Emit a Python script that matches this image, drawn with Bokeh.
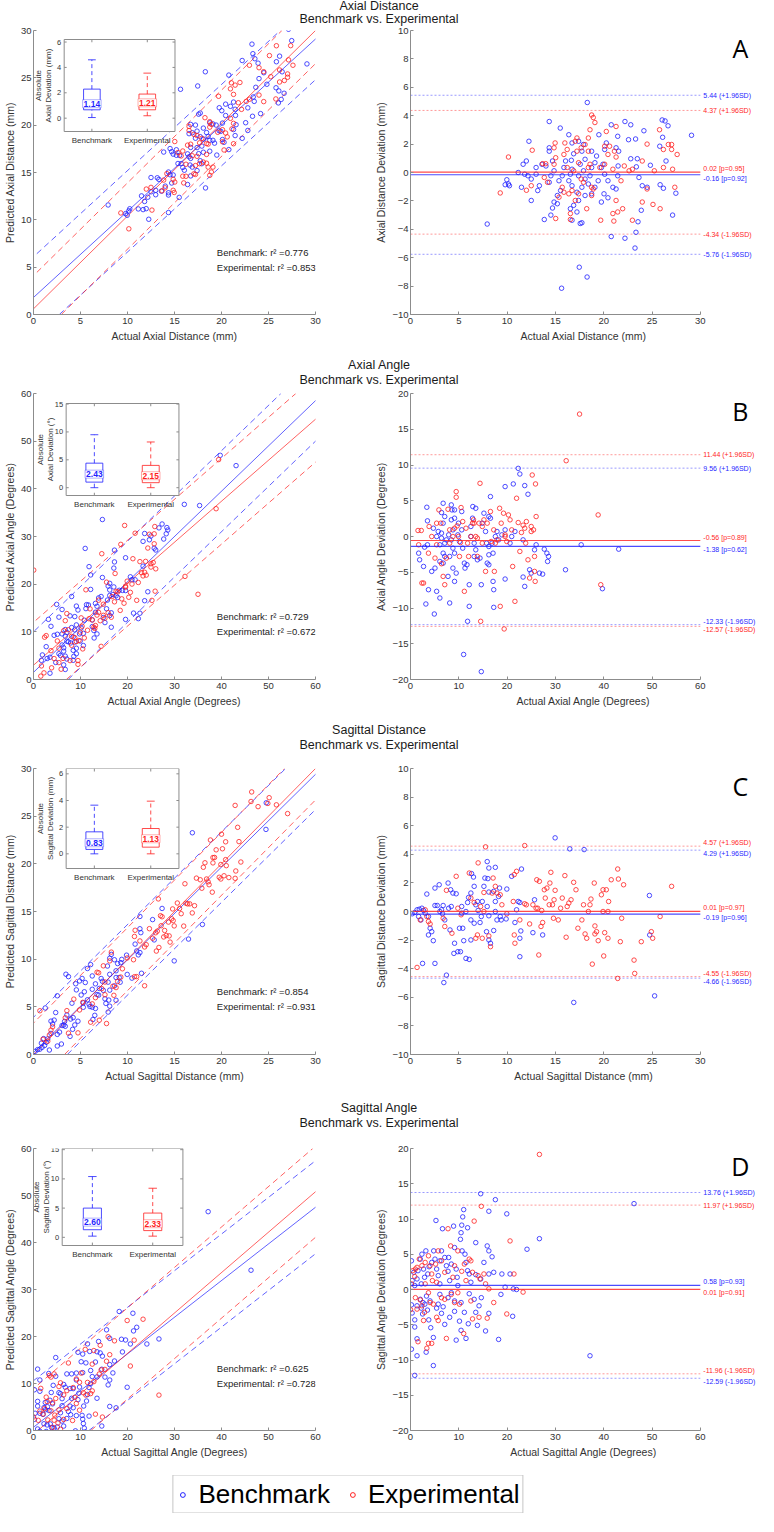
import math
from bokeh.plotting import figure
from bokeh.models import (Range1d, Label, Div, Legend, LegendItem, Slope, FixedTicker)
from bokeh.layouts import column, row
from bokeh.embed import file_html
from bokeh.resources import INLINE
from bokeh.core.properties import value

# ------------------------------------------------------------------ data
group_names = ["Benchmark", "Experimental"]
box_categories = [1, 2]
dist_ticks = [0, 5, 10, 15, 20, 25, 30]
angle_ticks = [0, 10, 20, 30, 40, 50, 60]
dist_dev_ticks = [-10, -8, -6, -4, -2, 0, 2, 4, 6, 8, 10]
angle_dev_ticks = [-20, -15, -10, -5, 0, 5, 10, 15, 20]
dist_inset_ticks = [0, 2, 4, 6]
angle_inset_ticks = [0, 5, 10, 15]

# (actual, actual - predicted) pairs
ad_bench = [(7.94,-3.63),(15.64,-8.15),(17.47,-6.67),(18.28,-7.36),(18.3,4.93),(15.5,3.13),(14.36,3.59),(12.26,2.2),(20.78,3.36),(22.2,3.59),(22.8,3.36),(26.05,3.7),(26.35,3.63),(26.66,3.29),(29.09,2.62),(24.16,2.94),(22.57,2.31),(23.3,2.36),(26.1,2.48),(25.8,1.85),(26.45,0.81),(24.83,0.51),(22.8,0.97),(23.48,0.97),(23.38,0.4),(23.65,-0.35),(24.5,-1.04),(23.99,-0.93),(25.84,-0.86),(26.18,-1.11),(27.47,-1.46),(27.13,-3.0),(23.55,-3.47),(23.34,-4.21),(23.24,-5.32),(22.2,-4.63),(20.78,-4.51),(23.89,-2.66),(21.28,-1.16),(21.45,-0.23),(21.49,0.46),(21.55,1.5),(21.28,1.74),(21.45,2.55),(20.27,2.08),(20.1,1.62),(19.76,0.35),(19.93,0.58),(20.1,-0.12),(20.44,-0.58),(20.95,-1.04),(20.03,-1.5),(20.44,-1.78),(19.76,-2.08),(18.75,-1.5),(19.09,-1.04),(19.43,-0.58),(18.58,-0.23),(18.75,0.35),(19.09,0.69),(19.26,1.16),(18.75,1.5),(19.5,2.66),(17.9,1.97),(17.4,2.2),(17.74,1.5),(18.07,0.93),(17.57,0.58),(17.91,0.12),(17.4,-0.23),(18.07,-0.46),(18.41,-0.81),(17.74,-1.04),(17.23,-1.39),(18.07,-1.62),(17.4,-1.97),(16.89,-2.31),(17.23,-2.78),(16.55,-2.55),(16.72,-3.36),(17.57,-3.59),(17.74,-3.54),(16.39,-0.58),(16.72,-0.93),(16.55,-0.12),(16.72,0.23),(16.65,0.86),(16.89,1.32),(16.72,2.08),(16.39,2.66),(16.05,0.81),(15.88,0.35),(15.71,-0.23),(15.37,-0.58),(15.54,-1.27),(15.2,-1.62),(14.86,-2.08),(15.2,-2.2),(14.53,-3.0),(13.85,-3.31),(14.7,-2.5),(14.36,-0.69),(14.53,-0.23),(14.86,0.12),(14.7,0.81),(14.36,1.5),(14.36,1.74),(14.02,0.46),(13.61,0.58),(13.0,0.35),(13.0,-0.12),(13.34,-0.93),(13.17,-1.27),(12.5,-1.97),(12.5,-0.46),(12.16,-0.23),(11.82,-0.12),(11.49,-1.04),(11.15,0.0),(11.66,0.58),(9.97,-0.51),(10.14,-0.81),(9.8,-0.86),(10.24,-0.93),(11.99,0.81)]
ad_exp = [(9.29,-1.44),(10.14,1.09),(12.0,-1.25),(12.6,1.57),(12.5,-0.93),(13.68,0.62),(14.0,0.62),(13.85,-0.35),(14.19,-0.69),(14.97,2.08),(14.86,1.74),(15.03,1.04),(14.86,0.58),(15.03,-3.24),(15.37,-1.74),(15.71,-1.04),(15.88,1.27),(15.98,2.08),(16.22,1.62),(16.22,0.35),(16.39,-1.5),(16.72,-1.27),(16.55,-3.31),(16.55,-2.89),(17.06,2.2),(17.23,2.43),(17.23,1.5),(17.4,0.69),(17.67,-0.46),(17.91,-0.69),(17.67,1.74),(18.07,1.97),(18.41,2.43),(18.58,3.01),(18.75,4.05),(18.92,3.87),(19.09,3.52),(18.41,0.35),(18.58,0.58),(18.75,-1.04),(18.92,-1.16),(18.24,-2.55),(18.75,-1.62),(19.6,0.35),(19.69,-3.36),(20.1,0.58),(20.1,1.85),(20.27,2.89),(20.44,1.27),(20.61,1.85),(20.95,0.23),(21.11,1.5),(21.28,3.24),(21.28,1.09),(20.95,-2.89),(21.05,-3.42),(21.45,-2.78),(21.28,-1.97),(21.96,-2.55),(21.79,-0.58),(22.97,-3.36),(22.97,0.23),(23.99,0.81),(23.99,-2.08),(24.49,2.0),(24.49,-1.16),(25.1,-2.25),(25.24,0.12),(25.78,3.01),(25.84,-2.55),(26.18,0.35),(26.18,1.62),(26.69,1.97),(27.03,1.97),(27.03,1.62),(27.13,0.23),(27.36,-1.04),(27.6,1.27),(22.63,0.12),(22.13,0.46),(17.4,-1.5),(17.06,-1.97),(15.88,-1.39),(16.89,0.12),(18.41,1.5)]
ad_fit_intercept = [1.8, 0.6]
ad_fit_slope = [0.91, 0.98]
ad_fit_band = [4.3, 3.5]
ad_r2 = [0.776, 0.853]
ad_mean = [-0.16, 0.02]
ad_p = [0.92, 0.95]
ad_upper = [5.44, 4.37]
ad_lower = [-5.76, -4.34]
ad_box_min = [0.05, 0.19]
ad_box_q1 = [0.66, 0.66]
ad_box_med = [1.14, 1.21]
ad_box_q3 = [2.29, 1.9]
ad_box_max = [4.6, 3.55]

aa_bench = [(3.38,4.09),(3.51,2.19),(1.69,-2.33),(1.89,-3.26),(2.91,-1.49),(3.51,-1.16),(2.7,-4.19),(3.72,-7.44),(3.18,-9.44),(4.93,-10.84),(5.41,-7.67),(6.08,-8.6),(4.39,-4.88),(5.07,-4.42),(4.73,1.16),(5.74,0.7),(5.41,0.0),(6.42,0.47),(6.42,3.35),(6.76,4.65),(7.09,2.79),(6.76,1.86),(6.42,-0.23),(6.08,-1.16),(7.09,-0.93),(6.76,-2.33),(7.09,-2.79),(6.08,-3.49),(6.76,-3.72),(8.11,-9.3),(7.77,-5.58),(8.45,4.42),(8.58,3.72),(8.45,2.33),(9.12,2.56),(8.78,0.93),(8.45,-0.47),(8.78,-1.63),(9.12,-2.33),(8.11,-2.79),(8.78,-4.42),(9.12,-6.28),(9.46,-5.12),(9.8,0.23),(10.14,-0.7),(9.93,1.86),(10.61,3.49),(10.61,0.93),(10.81,-1.63),(11.15,-3.72),(11.28,-4.42),(11.69,-3.95),(11.82,-11.86),(12.16,-6.74),(12.16,-9.77),(12.5,0.0),(12.5,1.4),(12.84,2.56),(12.9,4.19),(13.51,3.95),(13.18,-0.93),(13.51,-1.86),(13.18,-2.79),(13.85,-3.26),(14.39,-3.02),(14.66,-6.74),(14.86,1.86),(15.2,3.26),(15.54,0.7),(15.74,-0.93),(16.22,-2.56),(16.22,-1.4),(15.88,-3.72),(16.22,-3.95),(16.22,2.79),(16.55,5.58),(16.55,2.56),(16.89,-0.93),(17.09,-2.33),(17.09,-6.28),(17.23,-7.44),(17.23,-9.91),(17.57,0.0),(17.91,0.7),(18.24,-0.47),(18.92,0.23),(19.59,0.93),(19.59,6.98),(21.28,7.35),(19.59,-5.95),(20.95,0.0),(20.61,-0.93),(21.62,0.7),(22.3,9.53),(22.64,8.74),(23.31,-0.47),(23.31,-5.67),(23.65,-6.98),(23.65,7.12),(24.32,5.91),(24.66,-4.65),(24.99,-5.12),(25.68,-1.86),(26.01,-1.16),(26.69,-5.12),(27.36,-5.26),(27.7,-1.77),(28.24,-2.33),(28.38,-3.49),(28.58,-2.79),(32.09,-4.65),(35.34,-1.16),(43.1,-1.77),(39.73,-7.3),(9.12,3.72),(7.43,-0.47),(7.9,0.23),(11.0,-16.5),(14.66,-18.9)]
aa_exp = [(1.55,0.84),(2.23,0.84),(2.36,-6.51),(2.7,-6.51),(1.69,-1.16),(3.72,-2.33),(3.85,1.4),(4.39,0.0),(5.07,-3.02),(5.41,-1.16),(5.41,1.86),(5.88,3.72),(6.28,1.86),(6.42,-3.81),(6.76,-5.58),(7.09,-6.74),(7.77,3.81),(8.11,0.93),(8.11,-0.93),(9.46,5.49),(9.46,6.28),(9.66,1.49),(9.93,0.0),(10.14,-2.79),(10.34,-0.84),(10.47,4.05),(10.81,2.09),(11.15,-7.67),(11.49,1.16),(11.82,-0.93),(12.03,-2.79),(12.5,0.0),(12.84,1.86),(13.04,2.33),(13.18,1.86),(13.51,0.0),(13.85,-0.23),(13.85,-2.79),(14.19,1.86),(14.39,7.44),(14.53,-11.86),(14.86,1.4),(14.86,-0.93),(15.2,2.33),(15.54,-4.88),(15.88,1.86),(16.55,3.49),(16.69,-0.7),(17.23,0.93),(17.36,-4.88),(17.57,-0.93),(17.91,-0.47),(18.45,3.95),(18.78,1.86),(19.26,3.26),(19.59,0.23),(19.59,0.0),(19.93,-0.7),(19.39,-12.93),(18.58,-9.77),(20.27,3.02),(20.61,2.33),(20.95,0.93),(21.15,-4.19),(21.62,-9.07),(21.96,5.35),(22.3,1.95),(22.64,-2.09),(22.97,0.56),(23.31,1.58),(23.65,1.16),(23.85,-0.93),(23.99,2.09),(24.32,-3.26),(24.66,-5.81),(24.99,1.4),(24.99,0.7),(25.2,8.6),(25.47,0.93),(25.68,-4.88),(25.81,-6.28),(25.88,7.35),(26.01,2.79),(25.68,-2.79),(32.23,10.6),(35.0,17.12),(38.85,3.02),(39.39,-6.74),(7.43,-3.02),(8.78,0.0),(9.12,1.16),(0.05,-22.9)]
aa_fit_intercept = [1.5, 3.0]
aa_fit_slope = [0.95, 0.86]
aa_fit_band = [8.5, 9.0]
aa_r2 = [0.729, 0.672]
aa_mean = [-1.38, -0.56]
aa_p = [0.62, 0.89]
aa_upper = [9.56, 11.44]
aa_lower = [-12.33, -12.57]
aa_box_min = [0.0, 0.0]
aa_box_q1 = [1.0, 0.9]
aa_box_med = [2.43, 2.15]
aa_box_q3 = [4.4, 4.0]
aa_box_max = [9.5, 8.2]

sd_bench = [(0.17,-0.16),(0.44,-0.07),(0.68,0.12),(0.91,0.16),(1.18,0.23),(1.35,0.07),(1.52,-0.12),(1.08,-0.59),(1.25,-3.63),(1.69,1.22),(1.86,-0.35),(2.03,-1.17),(1.86,-1.64),(2.2,-1.41),(2.36,-2.04),(2.53,-3.63),(2.53,1.64),(2.97,1.87),(2.77,0.42),(2.53,0.42),(3.04,0.0),(3.21,0.12),(3.38,0.42),(3.55,-0.59),(3.72,-4.45),(3.89,1.99),(4.16,1.52),(4.39,1.29),(4.73,1.24),(3.95,0.23),(4.22,0.35),(4.09,-1.29),(4.56,-2.22),(4.49,-2.93),(4.9,-2.81),(5.07,-1.17),(5.41,-1.17),(5.3,-0.12),(5.3,0.35),(5.51,-2.04),(5.17,-2.81),(5.74,0.0),(5.91,0.63),(6.01,0.98),(6.25,1.29),(6.32,2.65),(6.52,2.41),(6.59,1.76),(5.74,-3.28),(6.08,-3.35),(6.25,-1.99),(6.25,-0.59),(6.59,-0.82),(6.76,0.47),(6.93,0.7),(7.0,0.07),(7.2,-0.77),(7.33,-0.35),(7.43,0.7),(7.6,1.76),(7.7,2.34),(7.94,3.49),(8.11,3.04),(8.01,2.3),(8.11,1.36),(7.94,0.35),(8.11,-0.3),(7.87,-1.41),(8.11,-1.99),(8.28,-2.22),(8.61,-1.33),(8.61,1.41),(8.78,0.7),(8.78,0.0),(8.95,-0.59),(9.12,1.05),(9.22,1.64),(9.29,-0.35),(9.39,-0.59),(8.78,3.09),(9.9,-0.52),(9.97,1.57),(10.47,2.46),(10.81,-0.77),(11.32,-3.16),(10.98,0.12),(11.15,0.7),(11.32,0.63),(11.42,-1.36),(11.49,2.97),(11.32,-1.87),(12.67,-1.48),(12.84,0.82),(13.68,-1.64),(14.97,5.15),(16.49,4.38),(17.97,4.33),(24.73,1.12),(24.76,-1.64),(0.84,-0.35),(3.31,-0.16),(3.45,-4.97),(16.9,-6.36),(25.27,-5.9)]
sd_exp = [(0.68,-3.91),(1.01,-0.59),(1.52,0.12),(1.86,-0.7),(2.03,-0.87),(1.69,-0.35),(3.72,1.48),(3.55,-1.05),(3.38,-0.47),(4.73,2.46),(4.29,-1.52),(5.24,-0.23),(4.9,0.23),(6.08,2.69),(6.25,0.94),(6.59,0.63),(6.76,-1.87),(6.93,-1.64),(7.26,0.35),(7.0,3.4),(7.6,1.33),(7.77,4.52),(7.43,-1.87),(7.6,0.0),(8.11,-1.71),(8.28,-2.46),(8.45,1.29),(8.55,2.34),(8.78,1.76),(8.95,1.29),(9.29,1.17),(9.46,0.47),(9.97,-0.16),(10.64,0.7),(10.74,2.58),(10.98,2.81),(11.32,-0.59),(11.82,4.61),(10.81,-2.22),(10.74,-1.64),(11.82,0.54),(12.33,-0.87),(11.99,0.47),(12.67,0.47),(13.0,0.23),(13.17,0.23),(13.07,2.22),(13.34,2.11),(13.28,-3.04),(13.51,-1.05),(13.68,-0.77),(13.58,0.07),(13.95,0.94),(13.85,1.52),(14.12,1.64),(14.36,0.47),(14.43,1.99),(14.53,2.74),(14.7,0.47),(14.86,0.82),(14.8,-0.47),(14.97,1.48),(15.3,-0.59),(15.54,0.23),(15.71,0.94),(15.98,2.51),(16.22,0.35),(16.11,-1.8),(16.39,0.59),(16.62,0.82),(16.89,2.04),(17.13,1.52),(17.33,-1.17),(17.74,-0.59),(17.91,0.47),(18.07,-1.57),(18.24,-1.87),(18.41,0.0),(18.58,0.47),(18.68,0.87),(18.82,-3.68),(19.02,1.99),(19.09,-1.57),(19.09,-1.01),(19.26,-1.41),(19.43,-2.04),(19.76,1.17),(19.93,1.52),(19.93,0.0),(20.1,-1.48),(20.0,-3.11),(20.27,1.52),(20.44,-1.87),(20.44,0.0),(20.51,0.7),(20.78,2.22),(21.52,2.27),(21.45,2.97),(21.72,-2.11),(21.45,-4.68),(21.86,-0.47),(22.06,1.87),(23.14,-3.4),(23.21,-4.33),(23.89,-2.11),(24.93,-1.41),(25.07,-1.87),(25.84,-0.35),(27.03,1.76)]
sd_fit_intercept = [0.2, 0.0]
sd_fit_slope = [0.973, 1.0]
sd_fit_band = [3.7, 3.3]
sd_r2 = [0.854, 0.931]
sd_mean = [-0.19, 0.01]
sd_p = [0.96, 0.97]
sd_upper = [4.29, 4.57]
sd_lower = [-4.66, -4.55]
sd_box_min = [0.0, 0.0]
sd_box_q1 = [0.33, 0.5]
sd_box_med = [0.83, 1.13]
sd_box_q3 = [1.65, 1.9]
sd_box_max = [3.65, 3.95]

sa_bench = [(0.2,4.07),(0.34,1.26),(0.68,2.44),(0.88,0.56),(1.35,1.5),(1.55,2.67),(2.03,4.31),(2.36,5.01),(3.18,5.48),(2.7,2.9),(2.91,1.73),(2.23,0.8),(3.58,2.2),(3.85,3.23),(4.39,3.84),(4.8,5.48),(5.27,9.79),(5.07,4.31),(5.41,2.9),(5.74,1.97),(6.08,4.07),(6.42,5.48),(6.62,8.62),(7.09,4.54),(7.43,3.37),(7.77,2.58),(7.9,4.54),(8.45,3.61),(8.92,8.99),(9.12,5.95),(9.46,2.9),(9.66,1.73),(9.8,0.56),(10.34,7.12),(10.47,8.06),(10.61,9.13),(10.81,10.3),(11.01,11.33),(10.68,5.48),(11.28,5.01),(11.49,3.84),(11.82,2.67),(12.16,2.2),(12.5,1.03),(11.82,8.76),(13.51,6.65),(14.53,13.58),(15.2,3.84),(15.88,6.18),(16.22,11.1),(16.22,5.48),(16.89,4.64),(17.23,2.44),(17.57,12.74),(18.92,2.2),(19.59,0.33),(19.93,10.73),(20.61,2.2),(21.28,0.09),(21.96,0.0),(24.12,5.71),(26.69,7.21),(46.28,12.18),(14.53,1.5),(13.51,2.11),(16.22,2.2),(6.08,0.8),(8.11,1.26),(0.2,-2.18),(0.34,-3.33),(0.2,-8.47),(0.88,-4.31),(0.88,-5.32),(1.35,-6.99),(1.35,-9.4),(0.88,-12.18),(2.03,-1.39),(2.23,-2.64),(2.5,-3.47),(2.97,-2.08),(3.31,-0.93),(3.51,-2.92),(3.78,-4.31),(4.19,-5.42),(3.24,-8.89),(4.73,-10.79),(4.73,-6.81),(5.41,-2.64),(5.74,-2.08),(6.42,-3.38),(6.76,-2.45),(7.09,-4.95),(7.77,-1.16),(8.11,-3.94),(9.12,-1.62),(9.12,-3.1),(9.46,-7.18),(10.14,-4.49),(10.47,-5.79),(11.15,-3.24),(11.49,-6.94),(10.47,-1.85),(11.96,-4.86),(13.51,-3.24),(13.85,-5.09),(14.19,-2.31),(14.66,-1.16),(15.54,-5.88),(16.22,-3.38),(18.24,-7.08),(21.15,-3.8),(37.16,-9.4),(18.72,-0.69),(4.05,-1.62),(6.08,-0.69),(8.45,-0.46),(12.16,-0.6),(13.18,-1.39),(2.57,-1.85),(1.35,-2.31)]
sa_exp = [(0.2,0.8),(0.47,2.67),(0.88,1.83),(1.01,2.9),(1.35,3.14),(1.82,4.31),(2.36,3.37),(3.04,3.84),(3.72,4.78),(4.05,3.37),(4.39,2.2),(4.53,1.26),(5.2,3.61),(5.74,5.48),(6.42,4.07),(7.09,2.44),(7.77,8.62),(8.31,6.18),(8.78,1.73),(9.12,3.37),(9.8,5.48),(10.61,2.58),(11.15,3.61),(12.16,4.31),(12.5,4.07),(12.84,2.44),(13.18,9.7),(13.99,1.97),(14.39,1.5),(14.66,11.8),(15.2,2.2),(15.54,0.8),(16.22,0.09),(20.61,6.89),(21.42,2.2),(23.31,-0.37),(26.69,19.16),(3.04,0.8),(5.41,1.03),(11.49,1.26),(0.0,-2.87),(1.01,-1.16),(1.35,-2.78),(1.55,-7.41),(2.03,-1.48),(2.36,-2.31),(2.7,-4.4),(2.91,-3.24),(3.38,-8.33),(3.72,-7.64),(4.39,-7.64),(4.05,-1.85),(4.73,-2.08),(5.41,-3.94),(5.74,-4.4),(6.42,-1.16),(7.09,-1.39),(7.43,-6.94),(9.12,-1.85),(10.14,-2.08),(11.01,-6.25),(12.5,-1.62),(12.84,-4.17),(14.19,-3.94),(15.88,-4.07),(17.23,-1.85),(19.93,-3.47),(3.72,-0.46),(8.45,-0.69),(9.8,-0.46)]
sa_fit_intercept = [0.7, -0.8]
sa_fit_slope = [0.78, 0.86]
sa_fit_band = [9.9, 9.7]
sa_r2 = [0.625, 0.728]
sa_mean = [0.58, 0.01]
sa_p = [0.93, 0.91]
sa_upper = [13.76, 11.97]
sa_lower = [-12.59, -11.96]
sa_box_min = [0.2, 0.2]
sa_box_q1 = [1.3, 1.15]
sa_box_med = [2.60, 2.33]
sa_box_q3 = [5.0, 4.15]
sa_box_max = [10.4, 8.4]

# ------------------------------------------------------------------ style
FONT = "Liberation Sans"
COLORS = ["#1f1fff", "#ff1f1f"]
AXIS_C = "#8c8c8c"
TEXT_C = "#333333"
LEFT_W, RIGHT_W = 372, 386
LEFT_B = (30, 57)
RIGHT_B = (33, 2)
RIGHT_DATA_PX = 294   # pixels of the right frame used by the 0..xmax data area

panels = [
    dict(key="A", title="Axial Distance", data=(ad_bench, ad_exp),
         fit=(ad_fit_intercept, ad_fit_slope, ad_fit_band), r2=ad_r2,
         ba=(ad_mean, ad_p, ad_upper, ad_lower),
         box=(ad_box_min, ad_box_q1, ad_box_med, ad_box_q3, ad_box_max),
         xmax=30, ymax=30, ba_y=(-10, 10), xticks=dist_ticks, ba_ticks=dist_dev_ticks,
         inset_y=(-1.05, 6.2), inset_ticks=dist_inset_ticks,
         xlabel="Actual Axial Distance (mm)", ylabel="Predicted Axial Distance (mm)",
         ba_ylabel="Axial Distance Deviation (mm)", inset_label="Absolute\nAxial Deviation (mm)",
         inset_px=(31, 112, 9, 92), div_h=26, line_h=13, fig_h=332, top=4, bottom=44),
    dict(key="B", title="Axial Angle", data=(aa_bench, aa_exp),
         fit=(aa_fit_intercept, aa_fit_slope, aa_fit_band), r2=aa_r2,
         ba=(aa_mean, aa_p, aa_upper, aa_lower),
         box=(aa_box_min, aa_box_q1, aa_box_med, aa_box_q3, aa_box_max),
         xmax=60, ymax=60, ba_y=(-20, 20), xticks=angle_ticks, ba_ticks=angle_dev_ticks,
         inset_y=(-1.4, 15.1), inset_ticks=angle_inset_ticks,
         xlabel="Actual Axial Angle (Degrees)", ylabel="Predicted Axial Angle (Degrees)",
         ba_ylabel="Axial Angle Deviation (Degrees)", inset_label="Absolute\nAxial Deviation (°)",
         inset_px=(33, 114, 10, 92), div_h=30, line_h=15, fig_h=335, top=5, bottom=44),
    dict(key="C", title="Sagittal Distance", data=(sd_bench, sd_exp),
         fit=(sd_fit_intercept, sd_fit_slope, sd_fit_band), r2=sd_r2,
         ba=(sd_mean, sd_p, sd_upper, sd_lower),
         box=(sd_box_min, sd_box_q1, sd_box_med, sd_box_q3, sd_box_max),
         xmax=30, ymax=30, ba_y=(-10, 10), xticks=dist_ticks, ba_ticks=dist_dev_ticks,
         inset_y=(-1.1, 6.4), inset_ticks=dist_inset_ticks,
         xlabel="Actual Sagittal Distance (mm)", ylabel="Predicted Sagittal Distance (mm)",
         ba_ylabel="Sagittal Distance Deviation (mm)", inset_label="Absolute\nSagittal Deviation (mm)",
         inset_px=(33, 114, 0, 100), div_h=30, line_h=15, fig_h=348, top=15, bottom=47),
    dict(key="D", title="Sagittal Angle", data=(sa_bench, sa_exp),
         fit=(sa_fit_intercept, sa_fit_slope, sa_fit_band), r2=sa_r2,
         ba=(sa_mean, sa_p, sa_upper, sa_lower),
         box=(sa_box_min, sa_box_q1, sa_box_med, sa_box_q3, sa_box_max),
         xmax=60, ymax=60, ba_y=(-20, 20), xticks=angle_ticks, ba_ticks=angle_dev_ticks,
         inset_y=(-1.4, 15.2), inset_ticks=angle_inset_ticks,
         xlabel="Actual Sagittal Angle (Degrees)", ylabel="Predicted Sagittal Angle (Degrees)",
         ba_ylabel="Sagittal Angle Deviation (Degrees)", inset_label="Absolute\nSagittal Deviation (°)",
         inset_px=(29, 122, 0, 97), div_h=30, line_h=15, fig_h=344, top=17, bottom=45),
]


def style_axes(p, xticks, yticks, xlabel, ylabel):
    p.outline_line_color = None
    p.xgrid.visible = False
    p.ygrid.visible = False
    p.background_fill_color = "white"
    p.border_fill_color = "white"
    p.xaxis.ticker = FixedTicker(ticks=xticks)
    p.yaxis.ticker = FixedTicker(ticks=yticks)
    p.xaxis.axis_label = xlabel
    p.yaxis.axis_label = ylabel
    for ax in list(p.xaxis) + list(p.yaxis):
        ax.axis_line_color = AXIS_C
        ax.major_tick_line_color = AXIS_C
        ax.major_tick_in = 3
        ax.major_tick_out = 0
        ax.minor_tick_line_color = None
        ax.major_label_text_font = FONT
        ax.major_label_text_font_size = "9.5px"
        ax.major_label_text_color = TEXT_C
        ax.axis_label_text_font = FONT
        ax.axis_label_text_font_size = "10.5px"
        ax.axis_label_text_font_style = "normal"
        ax.axis_label_text_color = TEXT_C
        ax.axis_label_standoff = 3
        ax.major_label_standoff = 3
    p.yaxis.axis_label_standoff = 2
    p.yaxis.major_label_standoff = 2


def txt(**kw):
    base = dict(text_font=value(FONT), text_color=TEXT_C)
    base.update(kw)
    return base


def draw_inset(p, c, fw, fh):
    lpx, wpx, tpx, hpx = c["inset_px"]
    ylo, yhi = c["inset_y"]
    xm, ym = c["xmax"], c["ymax"]
    ins = p.subplot(x_source=Range1d(0.5, 2.5), y_source=Range1d(ylo, yhi),
                    x_target=Range1d(xm * lpx / fw, xm * (lpx + wpx) / fw),
                    y_target=Range1d(ym * (1 - (tpx + hpx) / fh), ym * (1 - tpx / fh)))
    ins.quad(left=[0.5], right=[2.5], bottom=[ylo], top=[yhi], fill_color="white",
             line_color=AXIS_C, line_width=1)
    ticks = c["inset_ticks"]
    n = len(ticks)
    tl = 0.045
    ins.segment(x0=[0.5] * n, x1=[0.5 + tl] * n, y0=ticks, y1=ticks, line_color=AXIS_C)
    ins.segment(x0=[2.5] * n, x1=[2.5 - tl] * n, y0=ticks, y1=ticks, line_color=AXIS_C)
    dy = 0.03 * (yhi - ylo)
    ins.segment(x0=box_categories, x1=box_categories, y0=[ylo] * 2, y1=[ylo + dy] * 2, line_color=AXIS_C)
    ins.segment(x0=box_categories, x1=box_categories, y0=[yhi] * 2, y1=[yhi - dy] * 2, line_color=AXIS_C)
    ins.text(x=[0.5] * n, y=ticks, text=[str(t) for t in ticks], x_offset=-3,
             **txt(text_align="right", text_baseline="middle", text_font_size="7.5px"))
    ins.text(x=box_categories, y=[ylo] * 2, text=group_names, y_offset=4,
             **txt(text_align="center", text_baseline="top", text_font_size="8px"))
    ins.text(x=[0.5], y=[(ylo + yhi) / 2], text=[c["inset_label"]], x_offset=-11, angle=math.pi / 2,
             **txt(text_align="center", text_baseline="bottom", text_font_size="8px", text_line_height=1.1))
    bmin, bq1, bmed, bq3, bmax = c["box"]
    hw, cw = 0.15, 0.07
    for i, col in enumerate(COLORS):
        x = box_categories[i]
        ins.quad(left=[x - hw], right=[x + hw], bottom=[bq1[i]], top=[bq3[i]], fill_color=None,
                 line_color=col, line_alpha=0.8)
        ins.segment(x0=[x - hw], x1=[x + hw], y0=[bmed[i]], y1=[bmed[i]], line_color=col, line_alpha=0.8)
        ins.segment(x0=[x, x], x1=[x, x], y0=[bq3[i], bmin[i]], y1=[bmax[i], bq1[i]], line_color=col,
                    line_alpha=0.8, line_dash="4 3")
        ins.segment(x0=[x - cw] * 2, x1=[x + cw] * 2, y0=[bmax[i], bmin[i]], y1=[bmax[i], bmin[i]],
                    line_color=col, line_alpha=0.8)
        ins.text(x=[x], y=[bmed[i]], text=[f"{bmed[i]:.2f}"], text_align="center", text_baseline="middle",
                 text_font=value(FONT), text_font_style="bold", text_font_size="8.5px", text_color=col,
                 background_fill_color="white", border_line_color=col, border_line_alpha=0.35, padding=1)


def build_left(c):
    fw = LEFT_W - LEFT_B[0] - LEFT_B[1]
    fh = c["fig_h"] - c["top"] - c["bottom"]
    p = figure(width=LEFT_W, height=c["fig_h"], x_range=Range1d(0, c["xmax"]), y_range=Range1d(0, c["ymax"]),
               output_backend="svg", toolbar_location=None,
               min_border_left=LEFT_B[0], min_border_right=LEFT_B[1],
               min_border_top=c["top"], min_border_bottom=c["bottom"])
    style_axes(p, c["xticks"], c["xticks"], c["xlabel"], c["ylabel"])
    b0s, b1s, ws = c["fit"]
    for i, col in enumerate(COLORS):
        p.add_layout(Slope(gradient=b1s[i], y_intercept=b0s[i], line_color=col, line_alpha=0.7,
                           line_width=1, level="underlay"))
        for sgn in (1, -1):
            p.add_layout(Slope(gradient=b1s[i], y_intercept=b0s[i] + sgn * ws[i], line_color=col,
                               line_alpha=0.7, line_width=1, line_dash="6 4", level="underlay"))
    for pairs, col in zip(c["data"], COLORS):
        act = [a for a, d in pairs]
        pred = [a - d for a, d in pairs]
        p.scatter(act, pred, marker="circle", size=4.5, fill_color=None, line_color=col,
                  line_alpha=0.8, line_width=1)
    for i, name in enumerate(group_names):
        p.add_layout(Label(x=c["xmax"] * 0.65, y=c["ymax"] * (0.22 - 0.053 * i),
                           text=f"{name}: r² ={c['r2'][i]:.3f}", text_font=FONT,
                           text_font_size="9.5px", text_color="#222222", text_baseline="middle"))
    draw_inset(p, c, fw, fh)
    return p


def baselines(v0, v1, pxu):
    if abs(v0 - v1) * pxu < 10:
        return ("bottom", "top") if v0 > v1 else ("top", "bottom")
    return ("middle", "middle")


def build_right(c):
    lo, hi = c["ba_y"]
    xm = c["xmax"]
    fh = c["fig_h"] - c["top"] - c["bottom"]
    fw = RIGHT_W - RIGHT_B[0] - RIGHT_B[1]
    p = figure(width=RIGHT_W, height=c["fig_h"], x_range=Range1d(0, xm * fw / RIGHT_DATA_PX),
               y_range=Range1d(lo, hi),
               output_backend="svg", toolbar_location=None,
               min_border_left=RIGHT_B[0], min_border_right=RIGHT_B[1],
               min_border_top=c["top"], min_border_bottom=c["bottom"])
    style_axes(p, c["xticks"], c["ba_ticks"], c["xlabel"], c["ba_ylabel"])
    p.xaxis.bounds = (0, xm)
    means, ps, ups, lows = c["ba"]
    for i, col in enumerate(COLORS):
        p.segment(x0=[0, 0], x1=[xm, xm], y0=[ups[i], lows[i]], y1=[ups[i], lows[i]],
                  line_color=col, line_alpha=0.45, line_dash="2 2", line_width=1)
    for pairs, col in zip(c["data"], COLORS):
        p.scatter([a for a, d in pairs], [d for a, d in pairs], marker="circle", size=4.5,
                  fill_color=None, line_color=col, line_alpha=0.8, line_width=1)
    for i, col in enumerate(COLORS):
        p.segment(x0=[0], x1=[xm], y0=[means[i]], y1=[means[i]], line_color=col, line_alpha=0.8,
                  line_width=1.2)
    pxu = fh / (hi - lo)
    groups = [
        (ups, [f"{ups[i]:.2f} (+1.96SD)" for i in range(2)]),
        (means, [f"{means[i]:.2f} [p={ps[i]:.2f}]" for i in range(2)]),
        (lows, [f"{lows[i]:.2f} (-1.96SD)" for i in range(2)]),
    ]
    for vals, texts in groups:
        bl = baselines(vals[0], vals[1], pxu)
        for i, col in enumerate(COLORS):
            p.text(x=[xm], y=[vals[i]], text=[texts[i]], x_offset=3, text_font=value(FONT),
                   text_font_size="7px", text_color=col, text_baseline=bl[i], text_align="left")
    p.text(x=[xm], y=[hi], text=[c["key"]], x_offset=40, text_font=value("Open Sans"),
           text_font_size="25px", text_color="#000000", text_baseline="top", text_align="center")
    return p


def title_div(c):
    html = (f'<div style="width:758px;text-align:center;font-family:\'Liberation Sans\',Arial,sans-serif;'
            f'font-size:12.5px;line-height:{c["line_h"]}px;color:#1a1a1a">'
            f'{c["title"]}<br>Benchmark vs. Experimental</div>')
    return Div(text=html, width=758, height=c["div_h"], margin=0)


items = []
for c in panels:
    items.append(title_div(c))
    items.append(row(build_left(c), build_right(c)))

leg = figure(width=758, height=38, x_range=Range1d(0, 1), y_range=Range1d(0, 1),
             output_backend="svg", toolbar_location=None, x_axis_location=None, y_axis_location=None,
             min_border_left=0, min_border_right=62, min_border_top=0, min_border_bottom=0)
leg.grid.visible = False
leg.outline_line_color = None
# legend-only renderers: their single point lies outside the visible range
rends = [leg.scatter(x=[-5], y=[-5], marker="circle", size=4.5, fill_color=None, line_color=col,
                     line_width=1) for col in COLORS]
legend = Legend(items=[LegendItem(label=n, renderers=[r]) for n, r in zip(group_names, rends)],
                orientation="horizontal", location="center", label_text_font=FONT,
                label_text_font_size="26px", label_text_color="#000000", glyph_width=12, glyph_height=12,
                label_standoff=10, spacing=16, padding=3, margin=0, border_line_color="#8c8c8c",
                border_line_width=1, background_fill_color="white")
leg.add_layout(legend, "center")
items.append(leg)

page = column(*items, spacing=0)
open("out.html", "w").write(file_html(page, INLINE))
